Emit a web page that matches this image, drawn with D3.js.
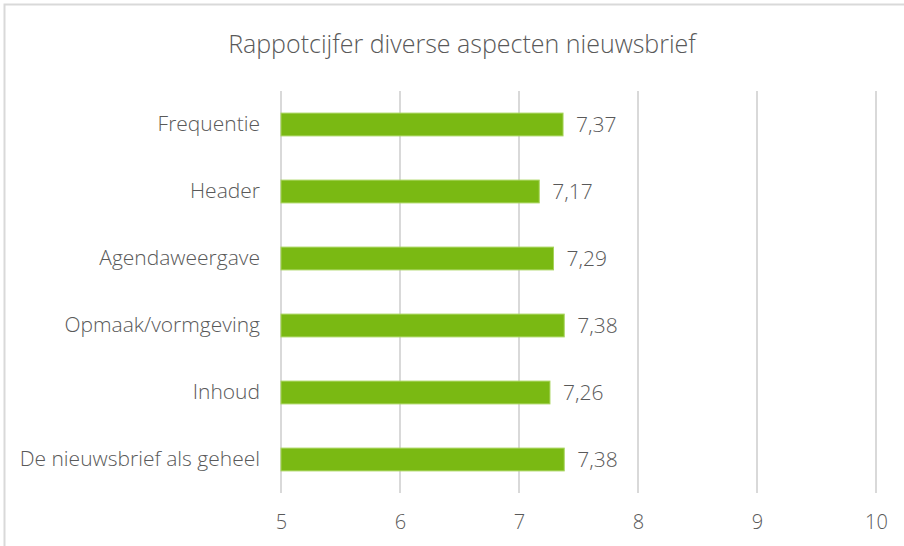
<!DOCTYPE html>
<html>
<head>
<meta charset="utf-8">
<script src="https://cdn.jsdelivr.net/npm/d3@7"></script>
<style>
  body { margin: 0; background: #fff; }
  svg { display: block; font-family: "Open Sans", sans-serif; font-weight: 300; }
</style>
</head>
<body>
<svg id="chart" width="904" height="546"></svg>
<script>
// data
const categories = ["Frequentie", "Header", "Agendaweergave", "Opmaak/vormgeving", "Inhoud", "De nieuwsbrief als geheel"];
const scores = [7.37, 7.17, 7.29, 7.38, 7.26, 7.38];
const xTicks = [5, 6, 7, 8, 9, 10];
const title = "Rappotcijfer diverse aspecten nieuwsbrief";

const svg = d3.select("#chart");
const margin = { top: 91, right: 28, bottom: 53, left: 281 };
const width = +svg.attr("width") - margin.left - margin.right;
const height = +svg.attr("height") - margin.top - margin.bottom;

const textColor = "#595959";
const font = "'Open Sans', sans-serif";

// chart frame
svg.append("rect")
  .attr("x", 4.5).attr("y", 4.5)
  .attr("width", 920).attr("height", 560)
  .attr("fill", "#fff")
  .attr("stroke", "#d9d9d9")
  .attr("stroke-width", 2);

const chart = svg.append("g")
  .attr("transform", `translate(${margin.left},${margin.top})`);

const xScale = d3.scaleLinear().domain([5, 10]).range([0, width]);
const yScale = d3.scaleBand()
  .domain(categories)
  .range([0, height])
  .paddingInner(0.66)
  .paddingOuter(0.33);

// gridlines
chart.selectAll(".grid")
  .data(xTicks)
  .enter()
  .append("line")
  .attr("class", "grid")
  .attr("x1", d => xScale(d)).attr("x2", d => xScale(d))
  .attr("y1", 0).attr("y2", height)
  .attr("stroke", "#d9d9d9")
  .attr("stroke-width", 2);

// x axis labels
const xAxis = chart.append("g")
  .attr("transform", `translate(0,${height})`)
  .call(d3.axisBottom(xScale).tickValues(xTicks).tickSize(0).tickPadding(22).tickFormat(d3.format("d")));
xAxis.select(".domain").remove();
xAxis.selectAll("text")
  .attr("fill", textColor)
  .style("font-size", "20px")
  .style("font-family", font)
  .style("font-weight", 300);

// y axis labels
const yAxis = chart.append("g")
  .call(d3.axisLeft(yScale).tickSize(0).tickPadding(21));
yAxis.select(".domain").remove();
yAxis.selectAll("text")
  .attr("fill", textColor)
  .style("font-size", "21px")
  .style("font-family", font)
  .style("font-weight", 300);

// bars
chart.selectAll(".bar")
  .data(scores)
  .enter()
  .append("rect")
  .attr("class", "bar")
  .attr("x", xScale(5))
  .attr("y", (d, i) => yScale(categories[i]))
  .attr("width", d => xScale(d) - xScale(5))
  .attr("height", yScale.bandwidth())
  .attr("fill", "#7ab913")
  .attr("stroke", "#a6d35a")
  .attr("stroke-width", 1);

// value labels
chart.selectAll(".val")
  .data(scores)
  .enter()
  .append("text")
  .attr("class", "val")
  .attr("x", d => xScale(d) + 13)
  .attr("y", (d, i) => yScale(categories[i]) + yScale.bandwidth() / 2)
  .attr("dy", "0.35em")
  .attr("fill", textColor)
  .style("font-size", "21px")
  .text(d => d3.format(".2f")(d).replace(".", ","));

// title
svg.append("text")
  .attr("x", 462)
  .attr("y", 53)
  .attr("text-anchor", "middle")
  .attr("fill", textColor)
  .style("font-size", "25px")
  .text(title);
</script>
</body>
</html>
